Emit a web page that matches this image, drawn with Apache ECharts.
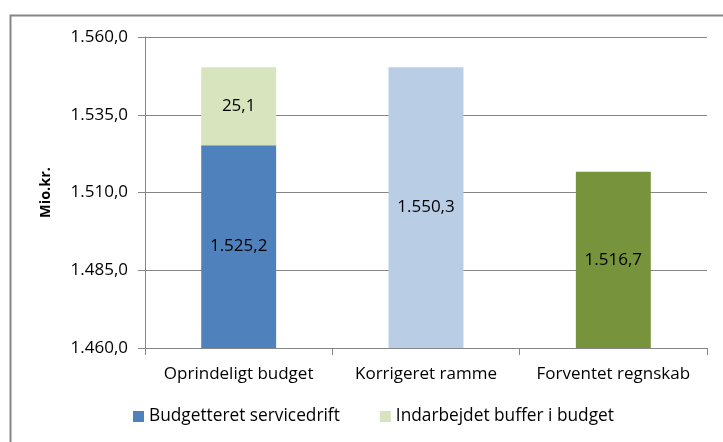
<!DOCTYPE html>
<html><head><meta charset="utf-8">
<script src="https://cdn.jsdelivr.net/npm/echarts@6/dist/echarts.min.js"></script>
<style>html,body{margin:0;padding:0;background:#fff}#c{width:723px;height:442px}</style>
</head><body><div id="c"></div>
<script>
const categories = ['Oprindeligt budget', 'Korrigeret ramme', 'Forventet regnskab'];
const baseValues = [1525.2, 1550.3, 1516.7];
const bufferValues = [25.1, null, null];
const seriesNames = ['Budgetteret servicedrift', 'Indarbejdet buffer i budget'];
const barColors = ['#4F81BD', '#B9CDE5', '#77933C'];
const bufferColor = '#D7E4BD';
const yMin = 1460, yMax = 1560, yStep = 25;

function dk(v){
  const s = Math.abs(v).toFixed(1).split('.');
  const i = s[0].replace(/\B(?=(\d{3})+(?!\d))/g, '.');
  return (v<0?'-':'') + i + ',' + s[1];
}
const FONT = 'Open Sans';
const FS = 17;
const chart = echarts.init(document.getElementById('c'));
chart.setOption({
  animation: false,
  textStyle: {fontFamily: FONT},
  graphic: [{type:'rect', shape:{x:10.5,y:15.5,width:800,height:600}, style:{fill:'none', stroke:'#868686', lineWidth:2}, silent:true}],
  grid: {left:145, right:16, top:37, bottom:94},
  legend: {
    bottom: 12, left: 128, itemWidth: 11, itemHeight: 11, itemGap: 40,
    icon: 'rect',
    textStyle: {fontFamily: FONT, fontSize: 17.3, color:'#000'},
    data: seriesNames
  },
  xAxis: {
    type:'category', data: categories,
    axisLine:{lineStyle:{color:'#868686'}},
    axisTick:{show:true, length:7, lineStyle:{color:'#868686'}},
    axisLabel:{interval:0, hideOverlap:false, fontFamily:FONT, fontSize:FS, color:'#000', margin:18}
  },
  yAxis: {
    type:'value', min:yMin, max:yMax, interval:yStep,
    name:'Mio.kr.', nameLocation:'middle', nameGap:92, nameRotate:90,
    nameTextStyle:{fontFamily:FONT, fontSize:14.5, fontWeight:'bold', color:'#000'},
    axisLine:{show:true, lineStyle:{color:'#868686'}},
    axisTick:{show:true, length:7, lineStyle:{color:'#868686'}},
    splitLine:{lineStyle:{color:'#868686'}},
    axisLabel:{fontFamily:FONT, fontSize:FS, color:'#000', margin:17, formatter: v => dk(v)}
  },
  series: [
    {name: seriesNames[0], type:'bar', stack:'a', barWidth:'40%',
     itemStyle:{color: barColors[0]},
     data: baseValues.map((v,i)=>({value:v, itemStyle:{color:barColors[i]}})),
     label:{show:true, position:'inside', fontFamily:FONT, fontSize:FS, color:'#000', formatter: p => dk(p.value)}},
    {name: seriesNames[1], type:'bar', stack:'a', barWidth:'40%',
     itemStyle:{color: bufferColor},
     data: bufferValues,
     label:{show:true, position:'inside', fontFamily:FONT, fontSize:FS, color:'#000', formatter: p => dk(p.value)}}
  ]
});
</script></body></html>
